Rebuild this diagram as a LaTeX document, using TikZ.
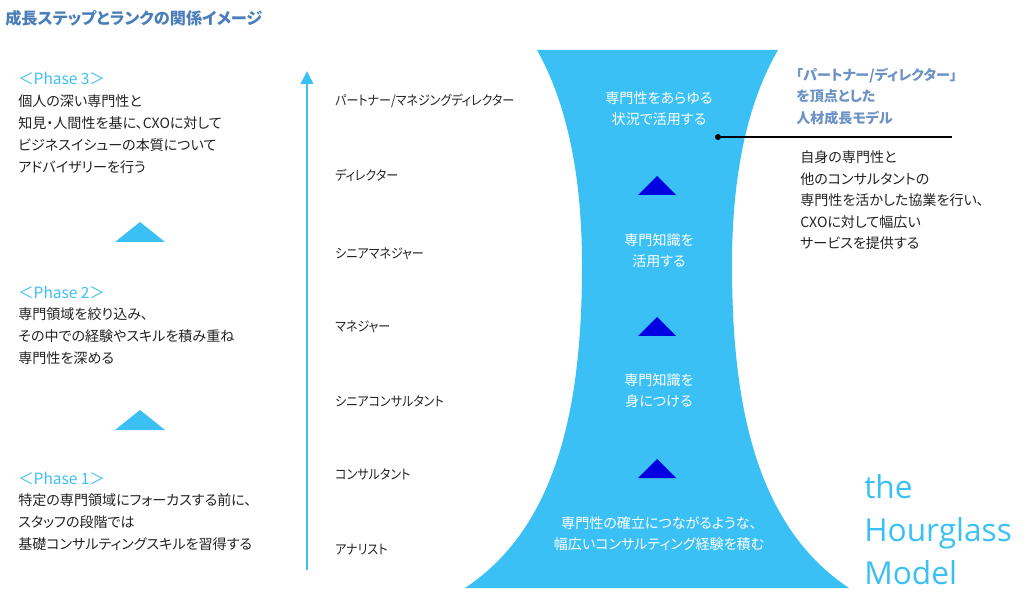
\documentclass[tikz,border=0pt]{standalone}
\usepackage{fontspec}
\setmainfont{Noto Sans CJK JP}[RawFeature={+palt}]
\newfontfamily\rankfont{Noto Sans CJK JP}[RawFeature={+palt}, FakeStretch=0.9]
\newfontfamily\hgfont{Open Sans}
\usetikzlibrary{arrows.meta, positioning, calc}

\definecolor{hgblue}{RGB}{59,192,245}
\definecolor{tridark}{RGB}{0,0,225}
\definecolor{titleblue}{RGB}{74,126,187}
\definecolor{headblue}{RGB}{108,146,198}
\definecolor{bodygray}{RGB}{35,35,35}

\begin{document}
\begin{tikzpicture}[
    x=0.025cm, y=-0.025cm,
    body/.style={align=left, anchor=west, inner sep=0pt, text=bodygray, font=\fontsize{10}{15.6}\selectfont},
    phase/.style={anchor=west, inner sep=0pt, text=hgblue, font=\fontsize{11}{13}\selectfont},
    rank/.style={anchor=west, inner sep=0pt, text=bodygray, font=\rankfont\fontsize{9.5}{12}\selectfont},
    inside/.style={align=center, inner sep=0pt, text=white, font=\fontsize{10}{15}\selectfont},
    dot/.style={circle, fill=black, inner sep=0pt, minimum size=0.15cm},
    axis/.style={draw=hgblue, line width=2.1pt, -{Triangle[length=0.32cm, width=0.3cm]}}
]
\useasboundingbox (0,0) rectangle (1024,596);

\node[anchor=west, inner sep=0pt, text=titleblue, font=\fontsize{11.5}{14}\selectfont\bfseries] (title) at (5,18) {成長ステップとランクの関係イメージ};

% left: phases
\node[phase] (ph3) at (18,78) {＜Phase 3＞};
\node[body] (ph3txt) at (18,134) {個人の深い専門性と\\知見・人間性を基に、CXOに対して\\ビジネスイシューの本質について\\アドバイザリーを行う};
\fill[hgblue] (115,242) -- (140,222) -- (165,242) -- cycle;

\node[phase] (ph2) at (18,292) {＜Phase 2＞};
\node[body] (ph2txt) at (18,336) {専門領域を絞り込み、\\その中での経験やスキルを積み重ね\\専門性を深める};
\fill[hgblue] (115,430) -- (140,410) -- (165,430) -- cycle;

\node[phase] (ph1) at (18,478) {＜Phase 1＞};
\node[body] (ph1txt) at (18,522) {特定の専門領域にフォーカスする前に、\\スタッフの段階では\\基礎コンサルティングスキルを習得する};

% rank axis
\coordinate (axisbot) at (307,570);
\coordinate (axistop) at (307,71);
\draw[axis] (axisbot) -- (axistop);

\node[rank] (rank7) at (335,101) {パートナー/マネジングディレクター};
\node[rank] (rank6) at (335,175) {ディレクター};
\node[rank] (rank5) at (335,254) {シニアマネジャー};
\node[rank] (rank4) at (335,327) {マネジャー};
\node[rank] (rank3) at (335,401) {シニアコンサルタント};
\node[rank] (rank2) at (335,474) {コンサルタント};
\node[rank] (rank1) at (335,550) {アナリスト};

% hourglass
\fill[hgblue] (537,50) -- (778,50)
    .. controls (749,100) and (732,170) .. (732,265)
    .. controls (732,400) and (754,525) .. (849,588)
    -- (465,588)
    .. controls (560,525) and (582,400) .. (582,265)
    .. controls (582,170) and (565,100) .. (537,50) -- cycle;

\foreach \y in {195,336,478}
    \fill[tridark] (638,\y) -- (657,\y-19) -- (676,\y) -- cycle;

\node[inside] (stage4) at (659,108.5) {専門性をあらゆる\\状況で活用する};
\node[inside] (stage3) at (659,250.5) {専門知識を\\活用する};
\node[inside] (stage2) at (659,390.5) {専門知識を\\身につける};
\node[inside] (stage1) at (659,534) {専門性の確立につながるような、\\幅広いコンサルティング経験を積む};

% right: model description
\node[dot] (pin) at (718,137) {};
\coordinate (pinend) at (952,137);
\draw[line width=1.2pt] (pin) -- (pinend);

\node[body, text=headblue, font=\fontsize{10}{15.3}\selectfont\bfseries] (modelhead) at (796,96.5) {「パートナー/ディレクター」\\を頂点とした\\人材成長モデル};
\node[body, font=\fontsize{10}{15.3}\selectfont] (modeltxt) at (800,200.5) {自身の専門性と\\他のコンサルタントの\\専門性を活かした協業を行い、\\CXOに対して幅広い\\サービスを提供する};

\node[anchor=west, align=left, inner sep=0pt, text=hgblue, font=\hgfont\fontsize{22.5}{30.6}\selectfont] (hgname) at (864,530) {the\\Hourglass\\Model};

\end{tikzpicture}
\end{document}
